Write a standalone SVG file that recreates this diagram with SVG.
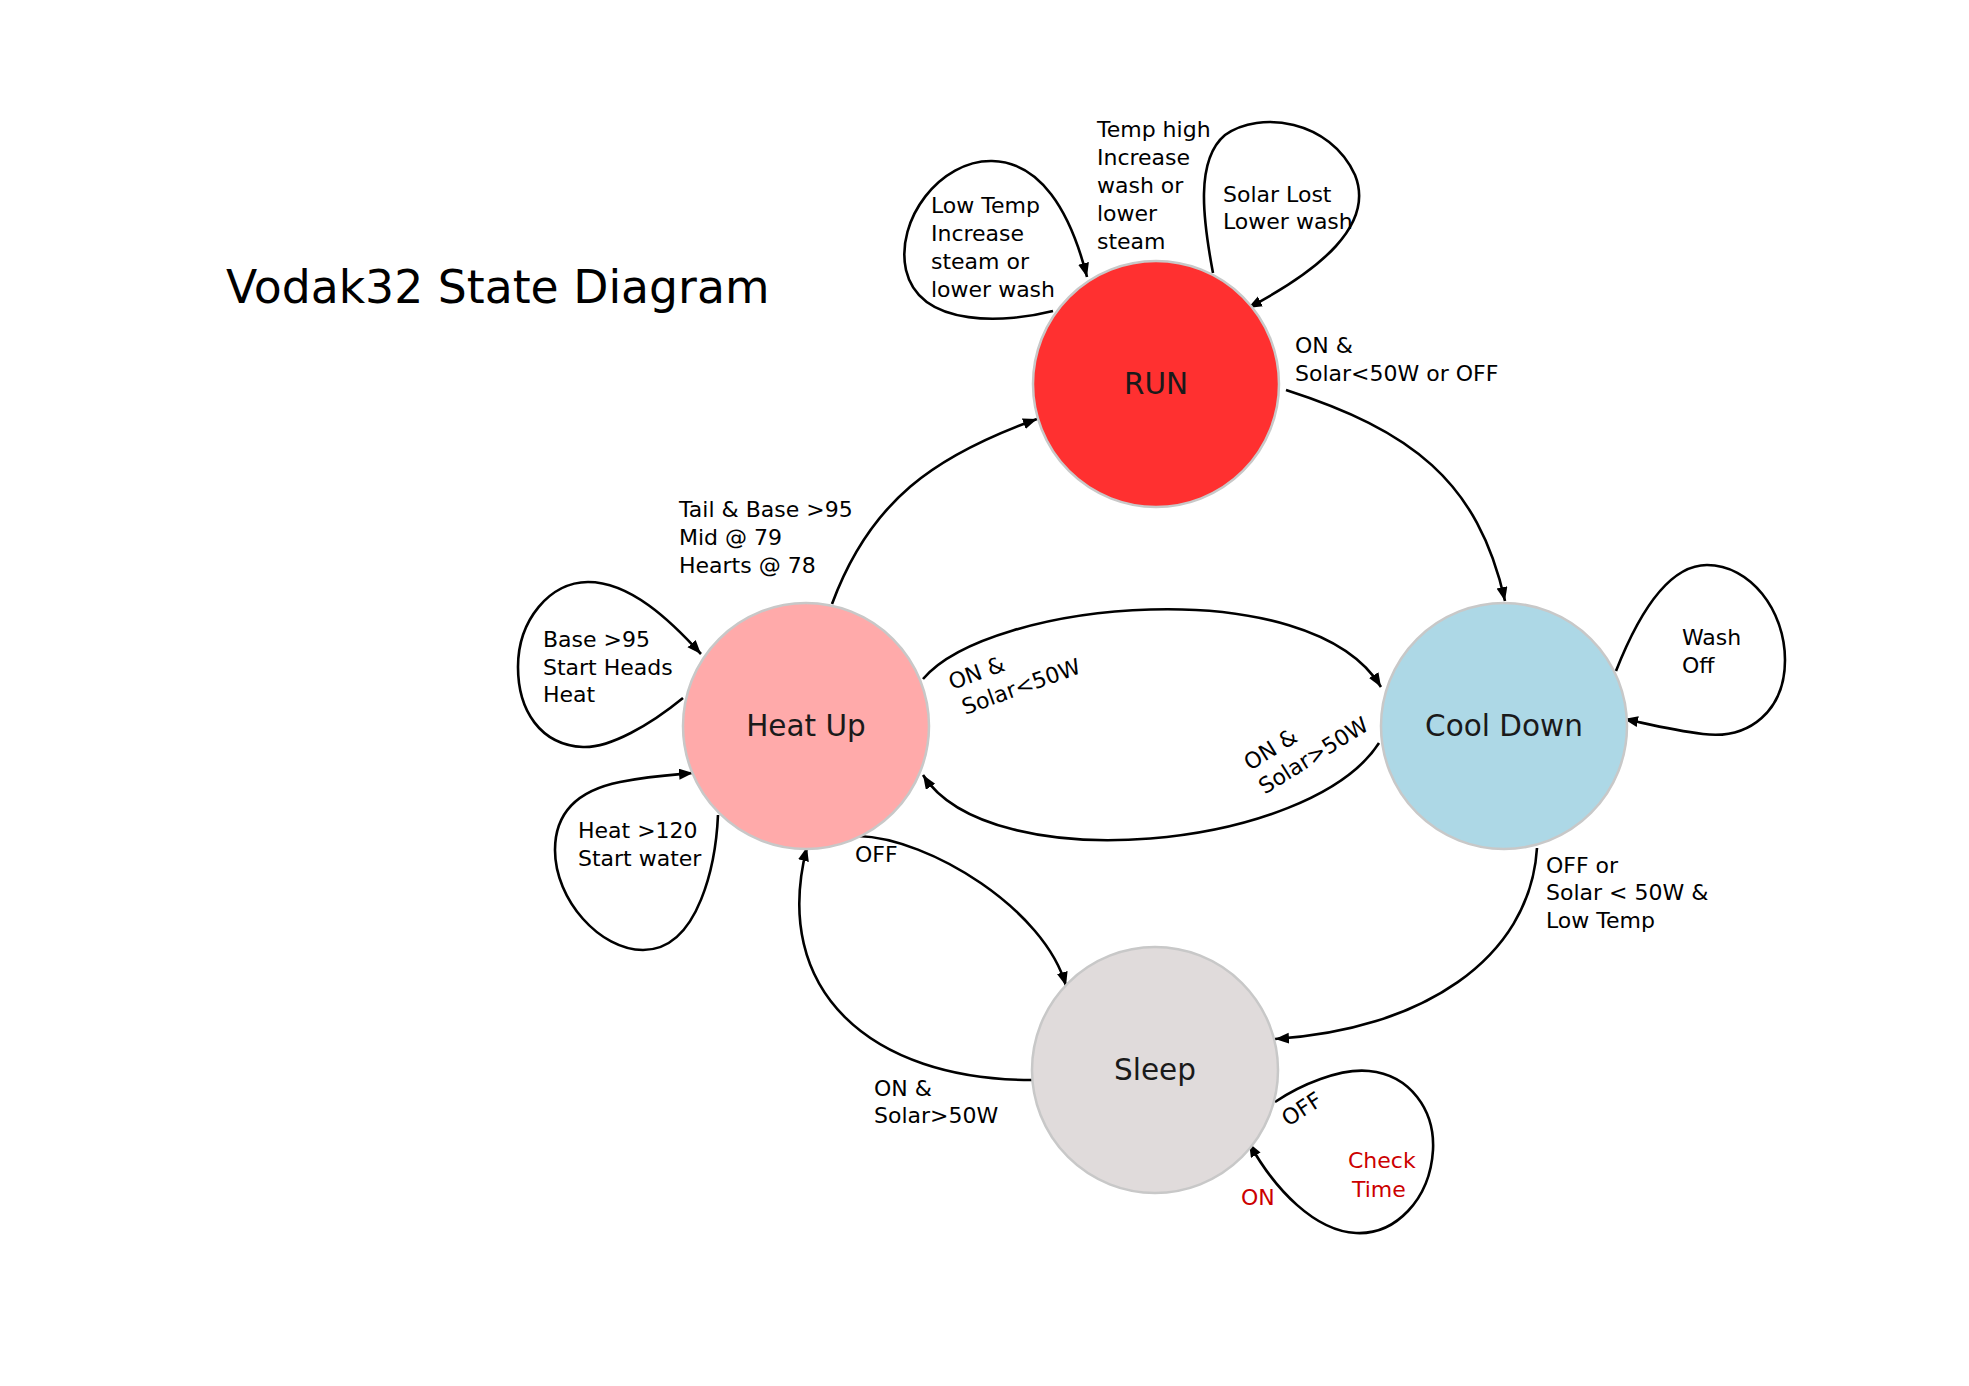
<svg xmlns="http://www.w3.org/2000/svg" width="1969" height="1386" viewBox="0 0 1969 1386">
<style>
.node{stroke:#c8c8c8;stroke-width:2.5}
.nl{font-family:"DejaVu Sans",sans-serif;font-size:29.5px;fill:#1a1a1a;text-anchor:middle}
.lb{font-family:"DejaVu Sans",sans-serif;font-size:22px;fill:#000}
.red{fill:#cc0000}
.e{fill:none;stroke:#000;stroke-width:2.6}
.title{font-family:"DejaVu Sans",sans-serif;font-size:45.7px;fill:#000}
</style>
<defs>
<marker id="ah" markerUnits="userSpaceOnUse" markerWidth="15" markerHeight="12" refX="14" refY="5.5" orient="auto">
<path d="M0,0 L14,5.5 L0,11 z" fill="#000"/>
</marker>
</defs>
<rect width="1969" height="1386" fill="#fff"/>
<text class="title" x="226" y="303">Vodak32 State Diagram</text>

<g id="connectors">
<path class="e" marker-end="url(#ah)" d="M832,604 C870,501 934,456 1037,419"/>
<path class="e" marker-end="url(#ah)" d="M1286,390 C1410,430 1478,480 1505,601"/>
<path class="e" marker-end="url(#ah)" d="M923,679 C990,600 1310,570 1381,687"/>
<path class="e" marker-end="url(#ah)" d="M1379,743 C1310,850 990,880 923,775"/>
<path class="e" marker-end="url(#ah)" d="M858,836 C930,838 1045,910 1066,986"/>
<path class="e" marker-end="url(#ah)" d="M1032,1080 C870,1080 770,990 807,847"/>
<path class="e" marker-end="url(#ah)" d="M1537,848 C1530,960 1420,1030 1275,1039"/>
<path class="e" marker-end="url(#ah)" d="M1053,311 C1010,322 920,330 906,270 C895,220 940,160 992,161 C1040,162 1070,210 1087,277"/>
<path class="e" marker-end="url(#ah)" d="M1213,273 C1203,220 1195,160 1225,135 C1260,110 1330,120 1355,175 C1375,225 1320,270 1248,308"/>
<path class="e" marker-end="url(#ah)" d="M1616,671 C1640,610 1670,565 1707,565 C1750,565 1785,610 1785,660 C1785,710 1750,740 1703,734 C1670,730 1640,722 1624,719"/>
<path class="e" marker-end="url(#ah)" d="M683,698 C650,725 610,748 583,747 C540,745 518,710 518,667 C518,620 550,582 588,582 C630,582 670,620 701,654"/>
<path class="e" marker-end="url(#ah)" d="M718,815 C716,860 700,950 643,950 C600,950 555,900 555,850 C555,810 580,790 620,782 C650,776 670,775 693,773"/>
<path class="e" marker-end="url(#ah)" d="M1275,1102 C1300,1085 1340,1068 1369,1071 C1410,1075 1435,1110 1433,1150 C1430,1200 1395,1235 1356,1233 C1315,1231 1275,1190 1249,1143"/>
</g>

<g id="run">
<circle class="node" cx="1156" cy="384" r="123" fill="#ff3030"/>
<text class="nl" x="1156" y="394">RUN</text>
</g>
<g id="heatup">
<circle class="node" cx="806" cy="726" r="123" fill="#ffaaaa"/>
<text class="nl" x="806" y="736">Heat Up</text>
</g>
<g id="cooldown">
<circle class="node" cx="1504" cy="726" r="123" fill="#add8e6"/>
<text class="nl" x="1504" y="736">Cool Down</text>
</g>
<g id="sleep">
<circle class="node" cx="1155" cy="1070" r="123" fill="#e0dbdb"/>
<text class="nl" x="1155" y="1080">Sleep</text>
</g>

<g id="labels">
<text class="lb"><tspan x="931" y="213">Low Temp</tspan><tspan x="931" y="241">Increase</tspan><tspan x="931" y="269">steam or</tspan><tspan x="931" y="297">lower wash</tspan></text>
<text class="lb"><tspan x="1097" y="137">Temp high</tspan><tspan x="1097" y="165">Increase</tspan><tspan x="1097" y="193">wash or</tspan><tspan x="1097" y="221">lower</tspan><tspan x="1097" y="249">steam</tspan></text>
<text class="lb"><tspan x="1223" y="202">Solar Lost</tspan><tspan x="1223" y="229">Lower wash</tspan></text>
<text class="lb"><tspan x="1295" y="353">ON &amp;</tspan><tspan x="1295" y="381">Solar&lt;50W or OFF</tspan></text>
<text class="lb"><tspan x="679" y="517">Tail &amp; Base &gt;95</tspan><tspan x="679" y="545">Mid @ 79</tspan><tspan x="679" y="573">Hearts @ 78</tspan></text>
<text class="lb"><tspan x="543" y="647">Base &gt;95</tspan><tspan x="543" y="675">Start Heads</tspan><tspan x="543" y="702">Heat</tspan></text>
<text class="lb"><tspan x="578" y="838">Heat &gt;120</tspan><tspan x="578" y="866">Start water</tspan></text>
<text class="lb" x="855" y="862">OFF</text>
<text class="lb"><tspan x="874" y="1096">ON &amp;</tspan><tspan x="874" y="1123">Solar&gt;50W</tspan></text>
<text class="lb"><tspan x="1546" y="873">OFF or</tspan><tspan x="1546" y="900">Solar &lt; 50W &amp;</tspan><tspan x="1546" y="928">Low Temp</tspan></text>
<text class="lb"><tspan x="1682" y="645">Wash</tspan><tspan x="1682" y="673">Off</tspan></text>
<text class="lb" transform="translate(952,690) rotate(-20)"><tspan x="0" y="0">ON &amp;</tspan><tspan x="4" y="28">Solar&lt;50W</tspan></text>
<text class="lb" transform="translate(1250,771) rotate(-32)"><tspan x="0" y="0">ON &amp;</tspan><tspan x="0" y="28">Solar&gt;50W</tspan></text>
<text class="lb" transform="translate(1288,1127) rotate(-33)">OFF</text>
<text class="lb red"><tspan x="1348" y="1168">Check</tspan><tspan x="1352" y="1197">Time</tspan></text>
<text class="lb red" x="1241" y="1205">ON</text>
</g>
</svg>
